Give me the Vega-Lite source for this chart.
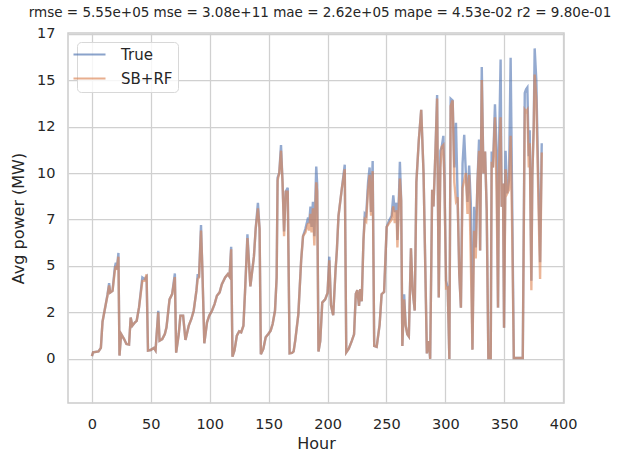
{
  "$schema": "https://vega.github.io/schema/vega-lite/v6.json",
  "autosize": {"type": "none"},
  "padding": {"left": 68, "top": 33, "right": 53, "bottom": 50},
  "width": 496,
  "height": 370,
  "background": "white",
  "config": {
    "font": "DejaVu Sans",
    "view": {"stroke": "#cccccc", "strokeWidth": 1.5},
    "axis": {
      "grid": true, "gridColor": "#d0d0d0", "gridWidth": 1.25,
      "domain": false, "ticks": false, "labelFlush": false,
      "labelFont": "DejaVu Sans", "labelFontSize": 14.5, "labelColor": "#262626",
      "titleFont": "DejaVu Sans", "titleFontSize": 16, "titleColor": "#262626", "titleFontWeight": "normal"
    }
  },
  "title": {
    "text": "rmse = 5.55e+05 mse = 3.08e+11 mae = 2.62e+05 mape = 4.53e-02 r2 = 9.80e-01",
    "font": "DejaVu Sans", "fontSize": 13.5, "fontWeight": "normal", "color": "#262626", "offset": 6, "anchor": "middle", "dx": 4
  },
  "data": {"values": [
    {"hour": 0, "True": 0.15, "SB+RF": 0.15},
    {"hour": 1, "True": 0.36, "SB+RF": 0.36},
    {"hour": 5.6, "True": 0.4, "SB+RF": 0.4},
    {"hour": 7.6, "True": 0.6, "SB+RF": 0.6},
    {"hour": 9, "True": 2.0, "SB+RF": 2.0},
    {"hour": 11.8, "True": 2.95, "SB+RF": 2.95},
    {"hour": 13.2, "True": 3.45, "SB+RF": 3.4},
    {"hour": 14.6, "True": 4.07, "SB+RF": 3.95},
    {"hour": 15.5, "True": 3.57, "SB+RF": 3.57},
    {"hour": 17.5, "True": 3.66, "SB+RF": 3.66},
    {"hour": 19.4, "True": 4.9, "SB+RF": 4.7},
    {"hour": 20.3, "True": 5.18, "SB+RF": 5.0},
    {"hour": 21.1, "True": 4.8, "SB+RF": 4.8},
    {"hour": 22.5, "True": 5.7, "SB+RF": 5.5},
    {"hour": 23.4, "True": 0.18, "SB+RF": 0.18},
    {"hour": 24.8, "True": 1.34, "SB+RF": 1.34},
    {"hour": 27.3, "True": 1.07, "SB+RF": 1.07},
    {"hour": 29.3, "True": 0.8, "SB+RF": 0.8},
    {"hour": 31.5, "True": 0.77, "SB+RF": 0.77},
    {"hour": 32.9, "True": 2.23, "SB+RF": 2.23},
    {"hour": 34.3, "True": 1.79, "SB+RF": 1.79},
    {"hour": 36.6, "True": 1.97, "SB+RF": 1.97},
    {"hour": 38, "True": 2.05, "SB+RF": 2.05},
    {"hour": 40, "True": 2.77, "SB+RF": 2.77},
    {"hour": 42.8, "True": 4.38, "SB+RF": 4.2},
    {"hour": 44.8, "True": 4.29, "SB+RF": 4.2},
    {"hour": 46.4, "True": 4.42, "SB+RF": 4.55},
    {"hour": 47.6, "True": 0.45, "SB+RF": 0.45},
    {"hour": 49.8, "True": 0.48, "SB+RF": 0.48},
    {"hour": 52.6, "True": 0.59, "SB+RF": 0.59},
    {"hour": 54, "True": 0.45, "SB+RF": 0.45},
    {"hour": 56.3, "True": 2.59, "SB+RF": 2.5},
    {"hour": 57.4, "True": 0.98, "SB+RF": 0.98},
    {"hour": 59.7, "True": 1.07, "SB+RF": 1.07},
    {"hour": 61.9, "True": 1.34, "SB+RF": 1.34},
    {"hour": 63.3, "True": 1.7, "SB+RF": 1.7},
    {"hour": 65.9, "True": 3.2, "SB+RF": 3.2},
    {"hour": 68.1, "True": 3.49, "SB+RF": 3.49},
    {"hour": 70.4, "True": 4.6, "SB+RF": 4.4},
    {"hour": 71.5, "True": 0.34, "SB+RF": 0.34},
    {"hour": 73.7, "True": 1.34, "SB+RF": 1.34},
    {"hour": 75.1, "True": 2.33, "SB+RF": 2.33},
    {"hour": 77.4, "True": 2.33, "SB+RF": 2.33},
    {"hour": 79.4, "True": 1.02, "SB+RF": 1.02},
    {"hour": 82.2, "True": 1.79, "SB+RF": 1.79},
    {"hour": 84.4, "True": 2.15, "SB+RF": 2.15},
    {"hour": 86.4, "True": 2.59, "SB+RF": 2.59},
    {"hour": 88.7, "True": 3.67, "SB+RF": 3.67},
    {"hour": 89.8, "True": 4.56, "SB+RF": 4.3},
    {"hour": 90.9, "True": 4.38, "SB+RF": 4.38},
    {"hour": 92.6, "True": 7.2, "SB+RF": 6.9},
    {"hour": 93.7, "True": 4.92, "SB+RF": 4.92},
    {"hour": 95.4, "True": 0.84, "SB+RF": 0.84},
    {"hour": 97.7, "True": 1.97, "SB+RF": 1.97},
    {"hour": 99.6, "True": 2.33, "SB+RF": 2.33},
    {"hour": 101.9, "True": 2.59, "SB+RF": 2.59},
    {"hour": 104.1, "True": 2.95, "SB+RF": 2.95},
    {"hour": 106.1, "True": 3.4, "SB+RF": 3.4},
    {"hour": 108.4, "True": 3.58, "SB+RF": 3.58},
    {"hour": 110.3, "True": 4.02, "SB+RF": 4.02},
    {"hour": 113.1, "True": 4.38, "SB+RF": 4.38},
    {"hour": 115.4, "True": 4.56, "SB+RF": 4.56},
    {"hour": 116.8, "True": 4.42, "SB+RF": 4.42},
    {"hour": 118.2, "True": 6.03, "SB+RF": 5.9},
    {"hour": 119.3, "True": 0.12, "SB+RF": 0.12},
    {"hour": 121, "True": 0.45, "SB+RF": 0.45},
    {"hour": 123, "True": 1.25, "SB+RF": 1.25},
    {"hour": 125, "True": 1.48, "SB+RF": 1.48},
    {"hour": 126.7, "True": 1.43, "SB+RF": 1.43},
    {"hour": 128.6, "True": 1.79, "SB+RF": 1.79},
    {"hour": 130, "True": 3.66, "SB+RF": 3.66},
    {"hour": 132, "True": 6.7, "SB+RF": 6.5},
    {"hour": 134.5, "True": 3.9, "SB+RF": 3.9},
    {"hour": 137.5, "True": 5.5, "SB+RF": 5.5},
    {"hour": 139, "True": 7.0, "SB+RF": 7.0},
    {"hour": 140.9, "True": 8.4, "SB+RF": 8.1},
    {"hour": 142.3, "True": 7.0, "SB+RF": 7.0},
    {"hour": 143.4, "True": 0.25, "SB+RF": 0.25},
    {"hour": 145.5, "True": 0.54, "SB+RF": 0.54},
    {"hour": 147.5, "True": 1.16, "SB+RF": 1.16},
    {"hour": 149.7, "True": 1.34, "SB+RF": 1.34},
    {"hour": 151.7, "True": 1.52, "SB+RF": 1.52},
    {"hour": 153.4, "True": 1.88, "SB+RF": 1.88},
    {"hour": 155.4, "True": 2.59, "SB+RF": 2.59},
    {"hour": 156.8, "True": 4.38, "SB+RF": 4.38},
    {"hour": 157.6, "True": 9.75, "SB+RF": 9.6},
    {"hour": 159, "True": 10.0, "SB+RF": 10.0},
    {"hour": 160.5, "True": 11.5, "SB+RF": 11.2},
    {"hour": 161.8, "True": 9.5, "SB+RF": 9.5},
    {"hour": 163.1, "True": 6.85, "SB+RF": 6.6},
    {"hour": 164.5, "True": 9.0, "SB+RF": 9.0},
    {"hour": 166.2, "True": 9.2, "SB+RF": 9.0},
    {"hour": 167.8, "True": 0.3, "SB+RF": 0.3},
    {"hour": 169.8, "True": 0.32, "SB+RF": 0.32},
    {"hour": 171.2, "True": 0.41, "SB+RF": 0.41},
    {"hour": 172.6, "True": 1.0, "SB+RF": 1.0},
    {"hour": 175.2, "True": 2.4, "SB+RF": 2.4},
    {"hour": 177.6, "True": 5.3, "SB+RF": 5.3},
    {"hour": 179.2, "True": 6.6, "SB+RF": 6.6},
    {"hour": 181.2, "True": 7.0, "SB+RF": 6.8},
    {"hour": 183.5, "True": 7.6, "SB+RF": 7.3},
    {"hour": 184.4, "True": 7.3, "SB+RF": 6.9},
    {"hour": 185.5, "True": 8.2, "SB+RF": 7.8},
    {"hour": 186.4, "True": 7.1, "SB+RF": 6.8},
    {"hour": 187.6, "True": 8.45, "SB+RF": 8.1},
    {"hour": 188.8, "True": 6.6, "SB+RF": 6.1},
    {"hour": 190.4, "True": 10.35, "SB+RF": 9.5},
    {"hour": 191.2, "True": 9.4, "SB+RF": 9.0},
    {"hour": 192.3, "True": 0.4, "SB+RF": 0.4},
    {"hour": 193.8, "True": 0.96, "SB+RF": 0.96},
    {"hour": 195.5, "True": 3.03, "SB+RF": 3.03},
    {"hour": 198, "True": 3.2, "SB+RF": 3.2},
    {"hour": 200, "True": 3.55, "SB+RF": 3.55},
    {"hour": 201.5, "True": 5.5, "SB+RF": 5.3},
    {"hour": 202.9, "True": 2.9, "SB+RF": 2.9},
    {"hour": 204.8, "True": 2.35, "SB+RF": 2.35},
    {"hour": 206.8, "True": 4.8, "SB+RF": 4.8},
    {"hour": 207.9, "True": 5.82, "SB+RF": 5.82},
    {"hour": 209.3, "True": 7.7, "SB+RF": 7.7},
    {"hour": 212.1, "True": 9.15, "SB+RF": 9.15},
    {"hour": 214.6, "True": 10.45, "SB+RF": 10.2},
    {"hour": 215.9, "True": 0.35, "SB+RF": 0.35},
    {"hour": 218, "True": 0.55, "SB+RF": 0.55},
    {"hour": 220.5, "True": 0.96, "SB+RF": 0.96},
    {"hour": 222.5, "True": 1.32, "SB+RF": 1.32},
    {"hour": 224, "True": 3.5, "SB+RF": 3.5},
    {"hour": 225.3, "True": 3.7, "SB+RF": 3.7},
    {"hour": 226.7, "True": 2.85, "SB+RF": 2.85},
    {"hour": 227.8, "True": 3.75, "SB+RF": 3.75},
    {"hour": 229, "True": 3.1, "SB+RF": 3.1},
    {"hour": 230.5, "True": 6.4, "SB+RF": 6.4},
    {"hour": 231.6, "True": 7.8, "SB+RF": 7.5},
    {"hour": 232.8, "True": 7.7, "SB+RF": 7.4},
    {"hour": 234.4, "True": 9.5, "SB+RF": 9.1},
    {"hour": 235.7, "True": 10.3, "SB+RF": 9.9},
    {"hour": 236.9, "True": 7.9, "SB+RF": 7.7},
    {"hour": 238.3, "True": 10.65, "SB+RF": 10.1},
    {"hour": 239.6, "True": 0.7, "SB+RF": 0.7},
    {"hour": 241.7, "True": 0.65, "SB+RF": 0.65},
    {"hour": 244.2, "True": 1.85, "SB+RF": 1.85},
    {"hour": 245.9, "True": 3.48, "SB+RF": 3.48},
    {"hour": 248, "True": 3.6, "SB+RF": 3.6},
    {"hour": 250.2, "True": 7.1, "SB+RF": 7.1},
    {"hour": 252.3, "True": 7.45, "SB+RF": 7.3},
    {"hour": 254.4, "True": 7.7, "SB+RF": 7.5},
    {"hour": 255.8, "True": 8.8, "SB+RF": 8.2},
    {"hour": 257.1, "True": 7.9, "SB+RF": 7.3},
    {"hour": 258.6, "True": 8.4, "SB+RF": 8.0},
    {"hour": 259.3, "True": 6.4, "SB+RF": 6.0},
    {"hour": 260.7, "True": 9.0, "SB+RF": 8.6},
    {"hour": 261.4, "True": 10.6, "SB+RF": 9.7},
    {"hour": 262.5, "True": 8.5, "SB+RF": 8.5},
    {"hour": 263.5, "True": 0.7, "SB+RF": 0.7},
    {"hour": 265, "True": 3.48, "SB+RF": 3.2},
    {"hour": 266.3, "True": 1.8, "SB+RF": 1.8},
    {"hour": 267.7, "True": 1.32, "SB+RF": 1.32},
    {"hour": 269, "True": 1.2, "SB+RF": 1.2},
    {"hour": 270.8, "True": 5.95, "SB+RF": 5.95},
    {"hour": 272.2, "True": 3.7, "SB+RF": 3.7},
    {"hour": 274, "True": 2.6, "SB+RF": 2.6},
    {"hour": 275.4, "True": 9.5, "SB+RF": 9.5},
    {"hour": 277.5, "True": 11.8, "SB+RF": 11.8},
    {"hour": 279.5, "True": 13.4, "SB+RF": 13.4},
    {"hour": 281.5, "True": 9.98, "SB+RF": 9.98},
    {"hour": 284.3, "True": 0.3, "SB+RF": 0.3},
    {"hour": 286, "True": 0.96, "SB+RF": 0.96},
    {"hour": 287.1, "True": 0, "SB+RF": 0},
    {"hour": 288.8, "True": 9.1, "SB+RF": 9.1},
    {"hour": 289.9, "True": 8.2, "SB+RF": 8.2},
    {"hour": 291.6, "True": 11.2, "SB+RF": 11.2},
    {"hour": 293, "True": 14.2, "SB+RF": 14.0},
    {"hour": 294.4, "True": 3.3, "SB+RF": 3.3},
    {"hour": 295.8, "True": 11.2, "SB+RF": 10.3},
    {"hour": 296.9, "True": 11.4, "SB+RF": 11.4},
    {"hour": 298.3, "True": 12.0, "SB+RF": 11.5},
    {"hour": 299.2, "True": 9.6, "SB+RF": 9.6},
    {"hour": 300.6, "True": 4.2, "SB+RF": 3.8},
    {"hour": 302, "True": 3.84, "SB+RF": 3.84},
    {"hour": 303.4, "True": 0, "SB+RF": 0},
    {"hour": 304.5, "True": 14.0, "SB+RF": 13.6},
    {"hour": 306.2, "True": 13.9, "SB+RF": 13.9},
    {"hour": 307.6, "True": 10.3, "SB+RF": 9.5},
    {"hour": 309, "True": 12.7, "SB+RF": 8.5},
    {"hour": 310.4, "True": 8.7, "SB+RF": 8.7},
    {"hour": 311.8, "True": 4.57, "SB+RF": 4.57},
    {"hour": 313.2, "True": 2.76, "SB+RF": 2.76},
    {"hour": 314.6, "True": 10.5, "SB+RF": 9.2},
    {"hour": 316, "True": 12.05, "SB+RF": 9.6},
    {"hour": 317.4, "True": 10.0, "SB+RF": 10.0},
    {"hour": 318.8, "True": 8.45, "SB+RF": 7.8},
    {"hour": 320.2, "True": 10.4, "SB+RF": 9.9},
    {"hour": 321.6, "True": 8.36, "SB+RF": 5.3},
    {"hour": 323, "True": 0.5, "SB+RF": 0.5},
    {"hour": 324.4, "True": 8.18, "SB+RF": 6.9},
    {"hour": 325.8, "True": 6.0, "SB+RF": 5.4},
    {"hour": 327.2, "True": 9.44, "SB+RF": 9.44},
    {"hour": 328.6, "True": 11.8, "SB+RF": 11.2},
    {"hour": 329.5, "True": 5.83, "SB+RF": 5.83},
    {"hour": 330.9, "True": 15.7, "SB+RF": 15.0},
    {"hour": 332.3, "True": 9.98, "SB+RF": 9.98},
    {"hour": 333.7, "True": 11.15, "SB+RF": 11.15},
    {"hour": 335.1, "True": 8.0, "SB+RF": 8.0},
    {"hour": 336.5, "True": 0.05, "SB+RF": 0.05},
    {"hour": 338.5, "True": 0.05, "SB+RF": 0.05},
    {"hour": 339.3, "True": 11.15, "SB+RF": 10.6},
    {"hour": 340.4, "True": 10.3, "SB+RF": 10.3},
    {"hour": 342.1, "True": 13.7, "SB+RF": 13.0},
    {"hour": 343.5, "True": 11.2, "SB+RF": 9.0},
    {"hour": 344.7, "True": 2.76, "SB+RF": 2.76},
    {"hour": 345.5, "True": 11.15, "SB+RF": 10.0},
    {"hour": 346.9, "True": 16.1, "SB+RF": 13.0},
    {"hour": 347.8, "True": 8.18, "SB+RF": 8.18},
    {"hour": 348.9, "True": 9.44, "SB+RF": 9.44},
    {"hour": 349.8, "True": 1.68, "SB+RF": 1.68},
    {"hour": 351.1, "True": 11.2, "SB+RF": 10.2},
    {"hour": 352.5, "True": 8.9, "SB+RF": 8.9},
    {"hour": 354, "True": 9.6, "SB+RF": 9.1},
    {"hour": 355.4, "True": 16.2, "SB+RF": 12.0},
    {"hour": 356.7, "True": 8.5, "SB+RF": 6.9},
    {"hour": 358.1, "True": 0.05, "SB+RF": 0.05},
    {"hour": 365.7, "True": 0.05, "SB+RF": 0.05},
    {"hour": 367.4, "True": 14.3, "SB+RF": 13.4},
    {"hour": 368.5, "True": 14.5, "SB+RF": 13.3},
    {"hour": 369.6, "True": 14.6, "SB+RF": 13.4},
    {"hour": 370.8, "True": 10.9, "SB+RF": 10.3},
    {"hour": 371.6, "True": 12.3, "SB+RF": 11.6},
    {"hour": 373, "True": 4.2, "SB+RF": 3.7},
    {"hour": 373.8, "True": 9.8, "SB+RF": 9.8},
    {"hour": 375, "True": 12.5, "SB+RF": 12.5},
    {"hour": 375.8, "True": 16.7, "SB+RF": 15.3},
    {"hour": 377.2, "True": 15.0, "SB+RF": 14.0},
    {"hour": 378.1, "True": 12.0, "SB+RF": 11.2},
    {"hour": 380.4, "True": 5.2, "SB+RF": 4.3},
    {"hour": 381.8, "True": 11.6, "SB+RF": 11.1}
  ]},
  "transform": [{"fold": ["True", "SB+RF"], "as": ["series", "power"]}],
  "encoding": {
    "x": {
      "field": "hour", "type": "quantitative",
      "scale": {"domain": [-20.3, 400.7], "nice": false, "zero": false},
      "axis": {"title": "Hour", "values": [0, 50, 100, 150, 200, 250, 300, 350, 400], "labelPadding": 14, "titlePadding": 5}
    },
    "y": {
      "field": "power", "type": "quantitative",
      "scale": {"domain": [-2.37, 17.53], "nice": false, "zero": false},
      "axis": {"title": "Avg power (MW)", "values": [0, 2.5, 5, 7.5, 10, 12.5, 15, 17.5], "labelExpr": "floor(datum.value)", "labelPadding": 13, "titlePadding": 10}
    },
    "color": {
      "field": "series", "type": "nominal",
      "scale": {"domain": ["True", "SB+RF"], "range": ["#4c72b0", "#dd8452"]},
      "legend": {
        "title": null, "orient": "top-left", "offset": 9,
        "symbolType": "M-3.2,0H3.2", "symbolSize": 100, "symbolStrokeWidth": 2, "symbolOpacity": 0.65,
        "labelFont": "DejaVu Sans", "labelFontSize": 15, "labelColor": "#262626", "labelOffset": 24,
        "rowPadding": 8, "padding": 5,
        "fillColor": "rgba(255,255,255,0.8)", "strokeColor": "#d8d8d8", "cornerRadius": 4
      }
    }
  },
  "layer": [
    {"transform": [{"filter": "datum.series == 'True'"}], "mark": {"type": "line", "strokeWidth": 2.4, "opacity": 0.6}},
    {"transform": [{"filter": "datum.series == 'SB+RF'"}], "mark": {"type": "line", "strokeWidth": 2.4, "opacity": 0.6}}
  ]
}
